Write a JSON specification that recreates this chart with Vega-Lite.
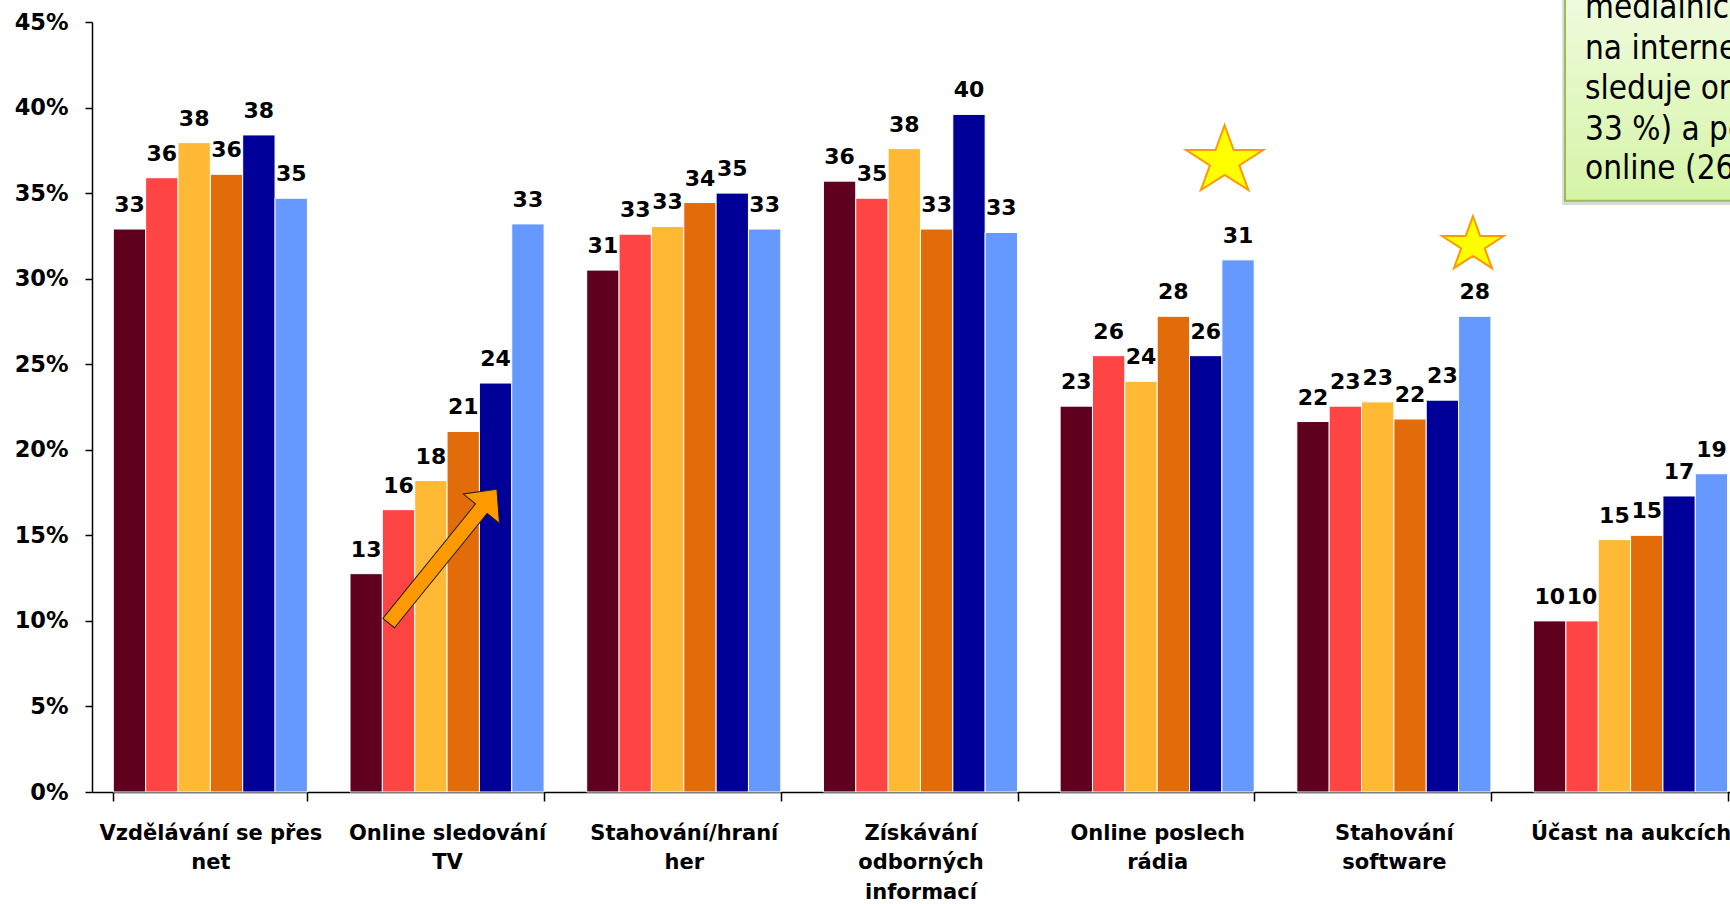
{
  "$schema": "https://vega.github.io/schema/vega-lite/v6.json",
  "autosize": {"type": "none"},
  "width": 1638,
  "height": 770,
  "padding": {"left": 92, "top": 22, "right": 0, "bottom": 112},
  "background": "white",
  "config": {"view": {"stroke": null}, "font": "DejaVu Sans"},
  "datasets": {
    "bars": [
      {"kategorie": "Vzdělávání se přes|net", "serie": "1", "podil": 32.9, "popisek": "33"},
      {"kategorie": "Vzdělávání se přes|net", "serie": "2", "podil": 35.9, "popisek": "36"},
      {"kategorie": "Vzdělávání se přes|net", "serie": "3", "podil": 37.95, "popisek": "38"},
      {"kategorie": "Vzdělávání se přes|net", "serie": "4", "podil": 36.1, "popisek": "36"},
      {"kategorie": "Vzdělávání se přes|net", "serie": "5", "podil": 38.4, "popisek": "38"},
      {"kategorie": "Vzdělávání se přes|net", "serie": "6", "podil": 34.7, "popisek": "35"},
      {"kategorie": "Online sledování|TV", "serie": "1", "podil": 12.76, "popisek": "13"},
      {"kategorie": "Online sledování|TV", "serie": "2", "podil": 16.5, "popisek": "16"},
      {"kategorie": "Online sledování|TV", "serie": "3", "podil": 18.2, "popisek": "18"},
      {"kategorie": "Online sledování|TV", "serie": "4", "podil": 21.07, "popisek": "21"},
      {"kategorie": "Online sledování|TV", "serie": "5", "podil": 23.9, "popisek": "24"},
      {"kategorie": "Online sledování|TV", "serie": "6", "podil": 33.2, "popisek": "33"},
      {"kategorie": "Stahování/hraní|her", "serie": "1", "podil": 30.5, "popisek": "31"},
      {"kategorie": "Stahování/hraní|her", "serie": "2", "podil": 32.6, "popisek": "33"},
      {"kategorie": "Stahování/hraní|her", "serie": "3", "podil": 33.05, "popisek": "33"},
      {"kategorie": "Stahování/hraní|her", "serie": "4", "podil": 34.45, "popisek": "34"},
      {"kategorie": "Stahování/hraní|her", "serie": "5", "podil": 35.0, "popisek": "35"},
      {"kategorie": "Stahování/hraní|her", "serie": "6", "podil": 32.9, "popisek": "33"},
      {"kategorie": "Získávání|odborných|informací", "serie": "1", "podil": 35.7, "popisek": "36"},
      {"kategorie": "Získávání|odborných|informací", "serie": "2", "podil": 34.7, "popisek": "35"},
      {"kategorie": "Získávání|odborných|informací", "serie": "3", "podil": 37.6, "popisek": "38"},
      {"kategorie": "Získávání|odborných|informací", "serie": "4", "podil": 32.9, "popisek": "33"},
      {"kategorie": "Získávání|odborných|informací", "serie": "5", "podil": 39.6, "popisek": "40"},
      {"kategorie": "Získávání|odborných|informací", "serie": "6", "podil": 32.7, "popisek": "33"},
      {"kategorie": "Online poslech|rádia", "serie": "1", "podil": 22.55, "popisek": "23"},
      {"kategorie": "Online poslech|rádia", "serie": "2", "podil": 25.5, "popisek": "26"},
      {"kategorie": "Online poslech|rádia", "serie": "3", "podil": 24.0, "popisek": "24"},
      {"kategorie": "Online poslech|rádia", "serie": "4", "podil": 27.8, "popisek": "28"},
      {"kategorie": "Online poslech|rádia", "serie": "5", "podil": 25.5, "popisek": "26"},
      {"kategorie": "Online poslech|rádia", "serie": "6", "podil": 31.1, "popisek": "31"},
      {"kategorie": "Stahování|software", "serie": "1", "podil": 21.65, "popisek": "22"},
      {"kategorie": "Stahování|software", "serie": "2", "podil": 22.55, "popisek": "23"},
      {"kategorie": "Stahování|software", "serie": "3", "podil": 22.8, "popisek": "23"},
      {"kategorie": "Stahování|software", "serie": "4", "podil": 21.8, "popisek": "22"},
      {"kategorie": "Stahování|software", "serie": "5", "podil": 22.9, "popisek": "23"},
      {"kategorie": "Stahování|software", "serie": "6", "podil": 27.8, "popisek": "28"},
      {"kategorie": "Účast na aukcích", "serie": "1", "podil": 10.0, "popisek": "10"},
      {"kategorie": "Účast na aukcích", "serie": "2", "podil": 10.0, "popisek": "10"},
      {"kategorie": "Účast na aukcích", "serie": "3", "podil": 14.75, "popisek": "15"},
      {"kategorie": "Účast na aukcích", "serie": "4", "podil": 15.0, "popisek": "15"},
      {"kategorie": "Účast na aukcích", "serie": "5", "podil": 17.3, "popisek": "17"},
      {"kategorie": "Účast na aukcích", "serie": "6", "podil": 18.6, "popisek": "19"}
    ],
    "box": [{"x": 6.223, "x2": 7.6, "y": 34.55, "y2": 50}],
    "shadow": [{"x": 6.211, "x2": 7.6, "y": 34.3, "y2": 50}],
    "boxtext": [
      {"x": 6.3076, "y": 45.21, "t": "mediálních obsahů"},
      {"x": 6.3076, "y": 42.84, "t": "na internetu nejčastěji"},
      {"x": 6.3076, "y": 40.48, "t": "sleduje online TV (nárůst"},
      {"x": 6.3076, "y": 38.11, "t": "33 %) a poslouchá rádio"},
      {"x": 6.3076, "y": 35.8, "t": "online (26 %)"}
    ],
    "stars": [
      {"x": 4.785, "y": 37.07, "s": 5155},
      {"x": 5.834, "y": 32.13, "s": 3295}
    ],
    "arrow": [{"x": 1.482, "y": 13.78}]
  },
  "layer": [
    {
      "data": {"name": "bars"},
      "encoding": {
        "x": {
          "field": "kategorie", "type": "nominal", "sort": null,
          "scale": {"paddingInner": 0.18, "paddingOuter": 0.05, "align": 0.9},
          "axis": {
            "title": null, "labelAngle": 0, "labelFont": "DejaVu Sans", "labelFontWeight": "bold",
            "labelFontSize": 21, "labelColor": "black", "labelExpr": "split(datum.label, '|')",
            "labelLineHeight": 29.5, "labelPadding": 21, "labelLimit": 0, "labelOverlap": false,
            "labelBound": false, "tickBand": "extent", "tickSize": 9, "tickColor": "black", "tickWidth": 1.5,
            "domainColor": "black", "domainWidth": 1.5
          }
        },
        "xOffset": {"field": "serie", "type": "nominal", "sort": null},
        "y": {
          "field": "podil", "type": "quantitative",
          "scale": {"domain": [0, 45], "nice": false, "zero": true},
          "axis": {
            "title": null, "values": [0, 5, 10, 15, 20, 25, 30, 35, 40, 45],
            "labelExpr": "datum.value + '%'", "labelFont": "DejaVu Sans", "labelFontWeight": "bold",
            "labelFontSize": 22.5, "labelColor": "black", "labelPadding": 17, "tickSize": 7,
            "tickColor": "black", "tickWidth": 1.5, "domainColor": "black", "domainWidth": 1.5, "grid": false
          }
        }
      },
      "layer": [
        {
          "mark": {"type": "bar", "stroke": "white", "strokeWidth": 1},
          "encoding": {
            "color": {
              "field": "serie", "type": "nominal", "legend": null,
              "scale": {"domain": ["1", "2", "3", "4", "5", "6"], "range": ["#5E001E", "#FF4444", "#FFB935", "#E36C0A", "#000099", "#6699FF"]}
            }
          }
        },
        {
          "mark": {"type": "text", "baseline": "alphabetic", "dy": -17, "font": "DejaVu Sans", "fontWeight": "bold", "fontSize": 22, "color": "black"},
          "encoding": {"text": {"field": "popisek"}}
        }
      ]
    },
    {
      "encoding": {},
      "layer": [
        {
          "data": {"name": "shadow"},
          "mark": {"type": "rect", "fill": "#000000", "opacity": 0.15},
          "encoding": {
            "x": {"field": "x", "type": "quantitative", "scale": {"domain": [0, 6.92], "nice": false, "zero": false}, "axis": null},
            "x2": {"field": "x2"},
            "y": {"field": "y", "type": "quantitative", "axis": null},
            "y2": {"field": "y2"}
          }
        },
        {
          "data": {"name": "box"},
          "mark": {
            "type": "rect", "stroke": "#9BBB59", "strokeWidth": 2,
            "fill": {"gradient": "linear", "x1": 0, "y1": 0, "x2": 0, "y2": 1,
              "stops": [{"offset": 0, "color": "#F6FDEE"}, {"offset": 1, "color": "#D5F4A6"}]}
          },
          "encoding": {
            "x": {"field": "x", "type": "quantitative", "axis": null},
            "x2": {"field": "x2"},
            "y": {"field": "y", "type": "quantitative", "axis": null},
            "y2": {"field": "y2"}
          }
        },
        {
          "data": {"name": "boxtext"},
          "mark": {"type": "text", "align": "left", "baseline": "alphabetic", "font": "DejaVu Sans Condensed, DejaVu Sans", "fontSize": 33, "color": "black"},
          "encoding": {
            "x": {"field": "x", "type": "quantitative", "axis": null},
            "y": {"field": "y", "type": "quantitative", "axis": null},
            "text": {"field": "t"}
          }
        },
        {
          "data": {"name": "stars"},
          "mark": {
            "type": "point", "filled": true, "fill": "#FFFF00", "stroke": "#FF9900", "strokeWidth": 2, "opacity": 1,
            "shape": "M0,-0.9045 L0.2532,-0.2135 L1.0727,-0.2135 L0.4095,0.2135 L0.6633,0.9045 L0,0.4775 L-0.6633,0.9045 L-0.4095,0.2135 L-1.0727,-0.2135 L-0.2532,-0.2135 Z"
          },
          "encoding": {
            "x": {"field": "x", "type": "quantitative", "axis": null},
            "y": {"field": "y", "type": "quantitative", "axis": null},
            "size": {"field": "s", "type": "quantitative", "scale": null}
          }
        },
        {
          "data": {"name": "arrow"},
          "mark": {
            "type": "point", "filled": true, "fill": "#FF9900", "stroke": "#222222", "strokeWidth": 1, "opacity": 1,
            "size": 29584, "angle": -51,
            "shape": "M-1,-0.087 L0.712,-0.087 L0.712,-0.271 L1,0 L0.712,0.271 L0.712,0.087 L-1,0.087 Z"
          },
          "encoding": {
            "x": {"field": "x", "type": "quantitative", "axis": null},
            "y": {"field": "y", "type": "quantitative", "axis": null}
          }
        }
      ]
    }
  ],
  "resolve": {"scale": {"x": "independent"}, "axis": {"x": "independent", "y": "independent"}}
}
